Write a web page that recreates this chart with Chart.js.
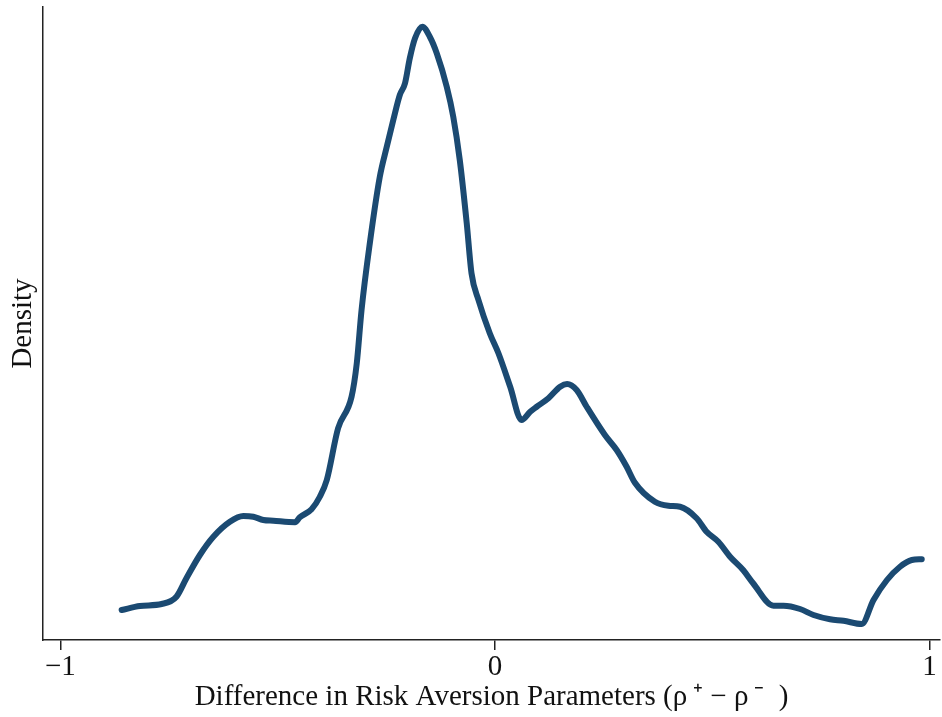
<!DOCTYPE html>
<html lang="en">
<head>
    <meta charset="UTF-8">
    <title>Density</title>
    <script src="https://cdn.jsdelivr.net/npm/chart.js"></script>
    <style>
        body { margin: 0; background: #fff; }
        #box { width: 942px; height: 717px; }
    </style>
</head>
<body>
    <div id="box">
        <canvas id="grafico" width="942" height="717"></canvas>
    </div>

<script>
    // valores (x = diferença, y = densidade em unidades arbitrárias)
    const diferenca = [-0.859, -0.817, -0.767, -0.733, -0.710, -0.679, -0.648, -0.610, -0.579, -0.556,
        -0.533, -0.510, -0.460, -0.449, -0.422, -0.403, -0.387, -0.361, -0.330, -0.318,
        -0.307, -0.288, -0.265, -0.249, -0.234, -0.219, -0.207, -0.196, -0.184, -0.167,
        -0.150, -0.134, -0.111, -0.096, -0.081, -0.065, -0.054, -0.038, -0.012, 0.008,
        0.035, 0.061, 0.081, 0.096, 0.123, 0.150, 0.166, 0.188, 0.211, 0.253,
        0.280, 0.303, 0.322, 0.368, 0.399, 0.426, 0.464, 0.487, 0.514, 0.541,
        0.571, 0.594, 0.641, 0.664, 0.702, 0.733, 0.771, 0.802, 0.844, 0.871,
        0.902, 0.932, 0.959, 0.982];
    const densidade = [0.120, 0.136, 0.144, 0.173, 0.247, 0.340, 0.413, 0.473, 0.496, 0.493,
        0.480, 0.477, 0.471, 0.491, 0.523, 0.573, 0.640, 0.847, 0.973, 1.107,
        1.320, 1.587, 1.853, 1.973, 2.080, 2.180, 2.227, 2.327, 2.407, 2.453,
        2.413, 2.347, 2.213, 2.093, 1.920, 1.667, 1.467, 1.360, 1.227, 1.147,
        1.013, 0.880, 0.913, 0.933, 0.967, 1.013, 1.024, 1.000, 0.933, 0.820,
        0.760, 0.693, 0.629, 0.553, 0.537, 0.533, 0.487, 0.433, 0.393, 0.333,
        0.280, 0.227, 0.137, 0.137, 0.124, 0.100, 0.083, 0.077, 0.064, 0.160,
        0.240, 0.293, 0.320, 0.323];
    const ticksX = [-1, 0, 1];
    const rotulosX = ['\u22121', '0', '1'];

    const pontos = diferenca.map((x, i) => ({ x: x, y: densidade[i] }));
    const fonte = "'Liberation Serif', 'Times New Roman', serif";

    new Chart(document.getElementById('grafico'), {
        type: 'line',
        data: {
            datasets: [{
                data: pontos,
                borderColor: '#1b4a72',
                borderWidth: 6,
                pointRadius: 0,
                tension: 0.4,
                cubicInterpolationMode: 'monotone',
                borderCapStyle: 'round',
                borderJoinStyle: 'round',
                fill: false
            }]
        },
        options: {
            responsive: false,
            animation: false,
            layout: { padding: { top: 7, right: 2, left: 0, bottom: 0 } },
            plugins: { legend: { display: false }, tooltip: { enabled: false } },
            scales: {
                x: {
                    type: 'linear',
                    min: -1.04,
                    max: 1.024,
                    afterBuildTicks: function (escala) {
                        escala.ticks = ticksX.map(v => ({ value: v }));
                    },
                    afterFit: function (escala) { escala.height = 77; },
                    grid: { display: true, drawOnChartArea: false, tickLength: 10, color: '#222', lineWidth: 1.5 },
                    border: { display: true, color: '#222', width: 1.5 },
                    ticks: {
                        color: '#111',
                        padding: 0,
                        maxRotation: 0,
                        font: { family: fonte, size: 29 },
                        callback: function (valor) {
                            const i = ticksX.indexOf(valor);
                            return i >= 0 ? rotulosX[i] : '';
                        }
                    },
                    title: {
                        display: true,
                        text: 'Difference in Risk Aversion Parameters (\u03c1\u2009\u207a \u2212 \u03c1\u2009\u207b\u2002)',
                        color: '#111',
                        font: { family: fonte, size: 29 },
                        padding: { top: 0, bottom: 2 }
                    }
                },
                y: {
                    min: 0,
                    max: 2.532,
                    afterFit: function (escala) { escala.width = 43; },
                    grid: { display: false },
                    border: { display: true, color: '#222', width: 1.5 },
                    ticks: { display: false },
                    title: {
                        display: true,
                        text: 'Density',
                        color: '#111',
                        font: { family: fonte, size: 29 },
                        padding: { top: 6, bottom: 0 }
                    }
                }
            }
        }
    });
</script>
</body>
</html>
